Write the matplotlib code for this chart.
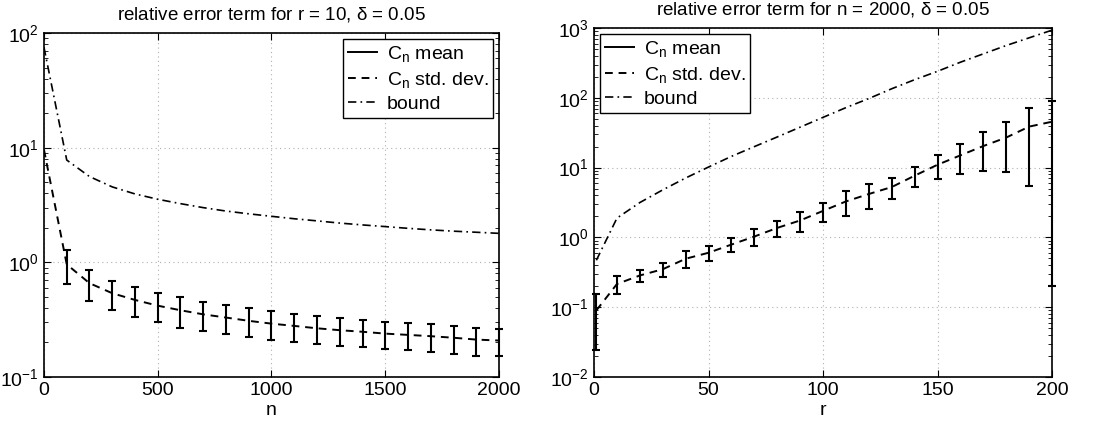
import numpy as np
import matplotlib
matplotlib.use("Agg")
import matplotlib.pyplot as plt
from matplotlib.lines import Line2D

plt.rcParams['font.family'] = ['Liberation Sans', 'DejaVu Sans']
plt.rcParams['mathtext.fontset'] = 'custom'
plt.rcParams['mathtext.rm'] = 'Liberation Sans'
plt.rcParams['mathtext.it'] = 'Liberation Sans'
plt.rcParams['mathtext.default'] = 'regular'

# ---- left panel: r = 10, varying n ----
n_vals = [0, 100, 200, 300, 400, 500, 600, 700, 800, 900, 1000,
          1100, 1200, 1300, 1400, 1500, 1600, 1700, 1800, 1900, 2000]
n_mean = [9.6, 0.96, 0.658, 0.538, 0.47, 0.419, 0.382, 0.352, 0.33, 0.309, 0.292,
          0.279, 0.266, 0.256, 0.248, 0.239, 0.233, 0.227, 0.22, 0.212, 0.208]
n_err = [np.nan, 0.31, 0.194, 0.155, 0.136, 0.118, 0.112, 0.10, 0.093, 0.087, 0.082,
         0.076, 0.073, 0.068, 0.067, 0.064, 0.062, 0.062, 0.06, 0.058, 0.056]
n_bound = [75, 7.8, 5.6, 4.55, 3.95, 3.55, 3.25, 3.0, 2.8, 2.65, 2.52,
           2.4, 2.3, 2.2, 2.12, 2.05, 1.98, 1.92, 1.87, 1.83, 1.79]
n_ticks = [0, 500, 1000, 1500, 2000]

# ---- right panel: n = 2000, varying r ----
r_vals = [1, 10, 20, 30, 40, 50, 60, 70, 80, 90, 100,
          110, 120, 130, 140, 150, 160, 170, 180, 190, 200]
r_mean = [0.09, 0.215, 0.285, 0.35, 0.495, 0.603, 0.79, 1.03, 1.37, 1.75, 2.4,
          3.28, 4.19, 5.27, 7.67, 11.0, 15.0, 20.4, 27.0, 38.7, 45.5]
r_err = [0.066, 0.061, 0.059, 0.077, 0.135, 0.14, 0.175, 0.286, 0.366, 0.56, 0.76,
         1.28, 1.62, 1.73, 2.4, 4.1, 7.0, 11.5, 18.3, 33.3, 45.3]
r_bound = [0.47, 1.89, 3.16, 4.8, 7.1, 10.2, 14.5, 20, 27.5, 38, 52.5,
           72.4, 97.7, 135, 182, 240, 324, 427, 562, 724, 933]
r_ticks = [0, 50, 100, 150, 200]

fig = plt.figure(figsize=(11.05, 4.26), dpi=100)
ax1 = fig.add_axes([0.0398, 0.115, 0.4118, 0.8075])
ax2 = fig.add_axes([0.5376, 0.115, 0.4145, 0.8192])

DASH = (0, (4, 3))
DASHDOT = (0, (5, 2.5, 1, 2.5))


def draw(ax, x, mean, err, bound, xticks, xlabel, title, xlim, ylim, legend_loc):
    x = np.array(x, dtype=float)
    mean = np.array(mean, dtype=float)
    err = np.array(err, dtype=float)
    ok = ~np.isnan(err)
    eb = ax.errorbar(x[ok], mean[ok], yerr=err[ok], fmt='none', ecolor='black',
                     elinewidth=1.5, capsize=3, capthick=1.5, zorder=3)
    for art in eb.lines[1] + eb.lines[2]:
        art.set_clip_on(False)
    ax.plot(x, mean, color='black', linestyle=DASH, linewidth=1.4, zorder=3)
    ax.plot(x, bound, color='black', linestyle=DASHDOT, linewidth=1.2, zorder=3)
    ax.set_yscale('log')
    ax.set_xlim(*xlim)
    ax.set_ylim(*ylim)
    ax.set_xticks(xticks)
    ax.grid(True, which='major', color='#b0b0b0', linestyle=(0, (1, 3)), linewidth=0.8)
    ax.tick_params(which='both', direction='in', top=True, right=True, labelsize=14)
    ax.tick_params(which='major', length=5)
    ax.tick_params(which='minor', length=3)
    for s in ax.spines.values():
        s.set_linewidth(1.2)
    ax.set_xlabel(xlabel, fontsize=14, labelpad=2)
    ax.set_title(title, fontsize=13.5, pad=10)
    handles = [Line2D([], [], color='black', linestyle='-', linewidth=1.4),
               Line2D([], [], color='black', linestyle=DASH, linewidth=1.4),
               Line2D([], [], color='black', linestyle=DASHDOT, linewidth=1.2)]
    labels = ['C$_n$ mean', 'C$_n$ std. dev.', 'bound']
    leg = ax.legend(handles, labels, loc=legend_loc, fontsize=14, fancybox=False,
                    framealpha=1, edgecolor='black', handlelength=1.5,
                    borderpad=0.25, labelspacing=0.3, handletextpad=0.5,
                    borderaxespad=0.3)
    leg.get_frame().set_linewidth(1.0)


draw(ax1, n_vals, n_mean, n_err, n_bound, n_ticks, 'n',
     r'relative error term for r = 10, $\delta$ = 0.05',
     (0, 2000), (0.1, 100), 'upper right')
draw(ax2, r_vals, r_mean, r_err, r_bound, r_ticks, 'r',
     r'relative error term for n = 2000, $\delta$ = 0.05',
     (0, 200), (0.01, 1000), 'upper left')

fig.savefig('out.png', dpi=100)
